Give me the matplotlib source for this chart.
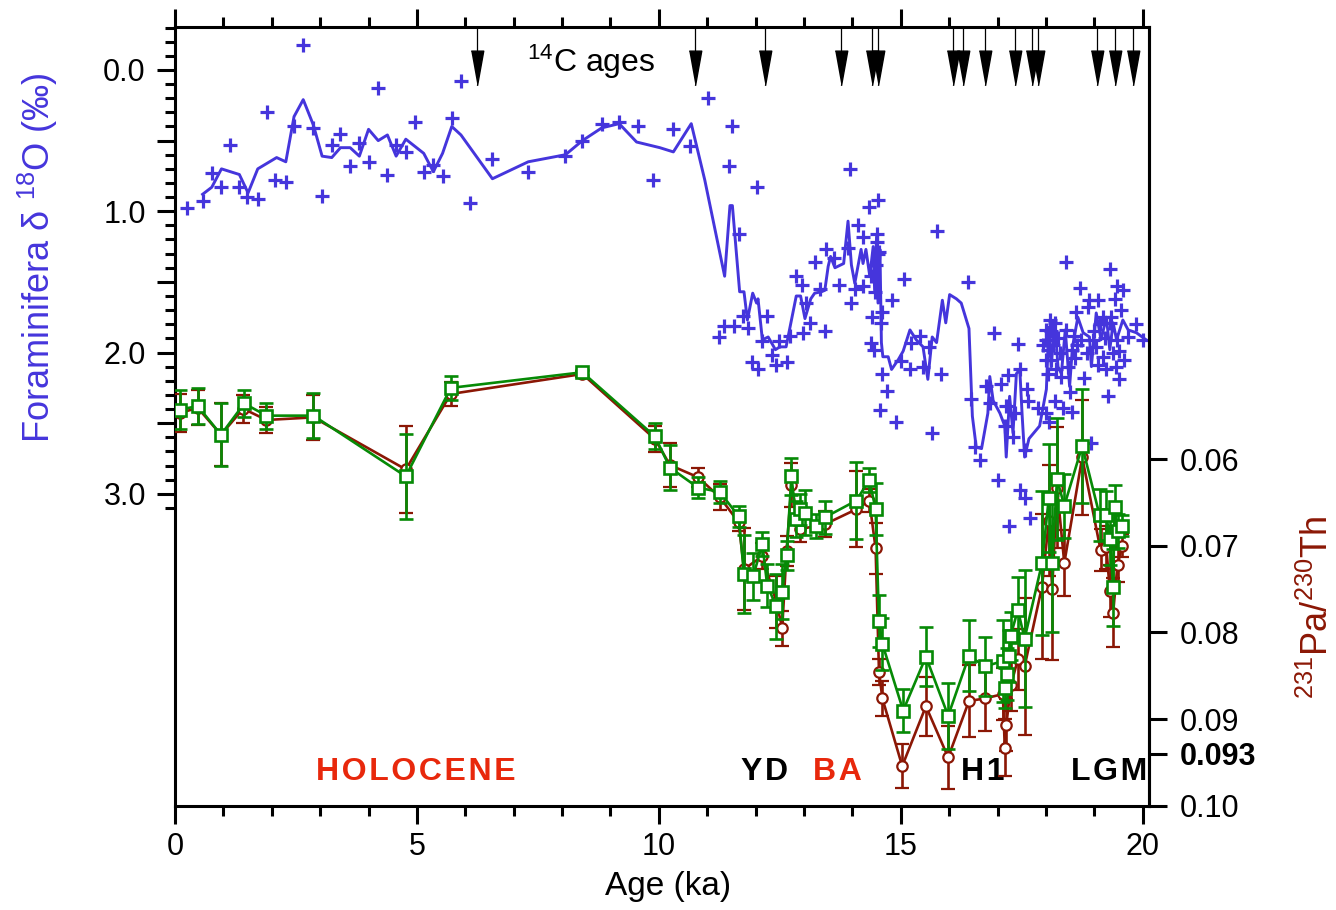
import numpy as np
import matplotlib
matplotlib.use("Agg")
from matplotlib import pyplot as plt

plt.rcParams['font.family'] = ['Liberation Sans', 'DejaVu Sans']
plt.rcParams['mathtext.fontset'] = 'custom'
plt.rcParams['mathtext.rm'] = 'Liberation Sans'
plt.rcParams['mathtext.it'] = 'Liberation Sans:italic'
plt.rcParams['mathtext.bf'] = 'Liberation Sans:bold'

BLUE = '#4535DC'
GREEN = '#068A06'
DARKRED = '#8B1705'
ORANGE = '#E8280C'

# foraminifera d18O, single measurements (ka, permil)
d18o_age = [
    0.24, 0.57, 0.76, 0.96, 1.14, 1.33, 1.49, 1.71, 1.91, 2.07, 2.29, 2.46, 2.65, 2.86,
    3.04, 3.24, 3.42, 3.62, 3.81, 4.00, 4.20, 4.39, 4.57, 4.77, 4.96, 5.14, 5.34, 5.53,
    5.72, 5.91, 6.10, 6.56, 7.30, 8.07, 8.42, 8.82, 9.18, 9.57, 9.88, 10.30, 10.64, 11.02,
    11.45, 11.52, 11.66, 12.02,
    11.24, 11.35, 11.56, 11.74, 11.85, 11.92, 12.05, 12.14, 12.24, 12.33, 12.43, 12.49,
    12.65, 12.71, 12.83, 12.95, 12.98, 13.04, 13.12, 13.22, 13.33, 13.43, 13.46, 13.62,
    13.73, 13.91, 13.95, 13.97, 14.05, 14.12, 14.21, 14.22, 14.35, 14.39, 14.39, 14.41,
    14.45, 14.46, 14.50, 14.50, 14.52, 14.48, 14.53, 14.55, 14.58, 14.60, 14.62, 14.62,
    14.72, 14.81, 14.90, 15.07, 15.74,
    15.01, 15.19, 15.22, 15.39, 15.46, 15.59, 15.65, 15.84, 16.40, 16.46, 16.53, 16.63,
    16.77, 16.84, 16.92, 17.00, 17.08, 17.15, 17.18, 17.22, 17.24, 17.32, 17.36, 17.43,
    17.46, 17.46, 17.56, 17.56, 17.60, 17.63, 17.67, 17.84, 18.01, 18.01, 18.01, 18.04,
    18.06, 18.08, 18.11, 18.18, 18.18, 18.21, 18.32, 18.35, 18.42, 18.42, 18.49, 18.53,
    18.53, 18.60, 18.62, 18.70, 18.73, 18.79, 18.87, 18.90, 18.94, 18.97, 19.04, 19.08,
    19.08, 19.18, 19.18, 19.25, 19.28, 19.32, 19.32, 19.35, 19.45, 19.46, 19.46, 19.52,
    19.52, 19.59, 19.70, 19.87, 20.01,
    17.95, 18.00, 18.05, 18.10, 18.15, 18.25, 18.30, 18.45, 18.58, 18.65, 18.85, 19.00,
    19.12, 19.22, 19.38, 19.42, 19.55, 19.62,
]
d18o_val = [
    0.98, 0.93, 0.73, 0.83, 0.53, 0.83, 0.90, 0.91, 0.30, 0.78, 0.79, 0.40, -0.18, 0.41,
    0.89, 0.53, 0.45, 0.68, 0.52, 0.65, 0.13, 0.74, 0.53, 0.58, 0.37, 0.72, 0.67, 0.75,
    0.34, 0.08, 0.94, 0.63, 0.72, 0.61, 0.50, 0.38, 0.37, 0.40, 0.78, 0.42, 0.54, 0.20,
    0.68, 0.40, 1.16, 0.83,
    1.89, 1.81, 1.81, 1.74, 1.83, 2.07, 2.12, 1.92, 1.74, 2.02, 2.09, 1.92,
    2.07, 1.88, 1.46, 1.52, 1.86, 1.65, 1.79, 1.36, 1.55, 1.85, 1.27, 1.33,
    1.52, 1.26, 0.70, 1.65, 1.55, 1.10, 1.18, 1.53, 0.97, 1.46, 1.93, 1.75,
    1.98, 1.57, 1.16, 1.22, 1.30, 1.38, 0.92, 1.29, 2.41, 1.79, 1.71, 2.15,
    2.27, 1.63, 2.49, 1.48, 1.14,
    2.06, 2.12, 1.93, 1.88, 2.10, 1.96, 2.57, 2.15, 1.50, 2.33, 2.67, 2.76,
    2.24, 2.36, 1.86, 2.90, 2.22, 2.52, 2.38, 2.16, 3.23, 2.60, 2.43, 1.94,
    2.12, 2.97, 2.69, 3.03, 2.26, 2.34, 3.17, 2.39, 2.43, 1.84, 1.91, 1.98,
    2.49, 1.77, 2.05, 2.34, 1.79, 2.12, 2.17, 2.39, 1.36, 1.84, 2.28, 2.42,
    1.98, 2.04, 1.71, 1.54, 1.91, 2.18, 1.68, 1.63, 2.64, 1.91, 1.96, 1.63,
    2.09, 2.03, 1.75, 2.12, 2.31, 1.41, 1.79, 1.75, 2.10, 1.53, 1.91, 1.99,
    2.19, 1.56, 1.89, 1.80, 1.91,
    1.95, 2.05, 2.15, 1.85, 1.95, 1.90, 2.00, 2.10, 1.88, 1.95, 2.00, 1.85,
    1.80, 1.90, 2.00, 1.62, 1.70, 2.05,
]

# smoothed d18O curve
curve_age = [
    0.57, 0.76, 0.96, 1.33, 1.51, 1.71, 2.10, 2.29, 2.46, 2.65, 2.86, 3.04, 3.24, 3.42,
    3.62, 3.81, 4.00, 4.20, 4.39, 4.57, 4.77, 5.14, 5.34, 5.53, 5.72, 5.91, 6.56, 7.30,
    8.07, 8.42, 8.82, 9.18, 9.54, 10.02, 10.30, 10.67, 10.95, 11.36, 11.47, 11.52, 11.67,
    11.76, 11.83, 11.94, 12.02, 12.05, 12.14, 12.26, 12.41, 12.50, 12.63, 12.84, 12.93,
    13.02, 13.14, 13.22, 13.36, 13.43, 13.50, 13.55, 13.64, 13.82, 13.91, 13.98, 14.05,
    14.12, 14.18, 14.22, 14.28, 14.36, 14.43, 14.46, 14.50, 14.53, 14.57, 14.60, 14.63,
    14.74, 14.81, 14.95, 15.05, 15.19, 15.32, 15.46, 15.56, 15.65, 15.74, 15.86, 15.93,
    16.01, 16.15, 16.25, 16.41, 16.48, 16.56, 16.67, 16.80, 16.84, 16.91, 17.05, 17.15,
    17.18, 17.25, 17.32, 17.39, 17.46, 17.51, 17.56, 17.65, 17.87, 18.01, 18.06, 18.11,
    18.18, 18.25, 18.32, 18.40, 18.49, 18.55, 18.66, 18.77, 18.90, 18.94, 19.04, 19.14,
    19.25, 19.32, 19.39, 19.46, 19.59, 19.70, 19.87, 20.07,
]
curve_val = [
    0.88, 0.83, 0.70, 0.74, 0.87, 0.70, 0.62, 0.65, 0.33, 0.21, 0.39, 0.61, 0.62, 0.55,
    0.55, 0.61, 0.42, 0.50, 0.46, 0.61, 0.49, 0.59, 0.72, 0.59, 0.40, 0.46, 0.77, 0.65,
    0.60, 0.50, 0.41, 0.38, 0.51, 0.55, 0.58, 0.38, 0.78, 1.46, 0.96, 0.96, 1.57,
    1.57, 1.77, 1.58, 1.65, 1.62, 1.91, 1.89, 1.98, 1.96, 1.96, 1.60, 1.60,
    1.76, 1.62, 1.58, 1.57, 1.56, 1.39, 1.32, 1.40, 1.37, 1.07, 1.38, 1.51,
    1.38, 1.27, 1.37, 1.27, 1.46, 1.25, 1.56, 1.18, 1.65, 1.27, 1.93, 2.03,
    2.03, 2.12, 2.05, 1.99, 1.84, 1.91, 1.96, 2.19, 1.89, 1.93, 1.63, 1.79,
    1.59, 1.62, 1.65, 1.83, 2.45, 2.67, 2.68, 2.43, 2.17, 2.34, 2.43, 2.52,
    2.74, 2.31, 2.57, 2.15, 2.12, 2.45, 2.74, 2.61, 2.52, 2.26, 1.82, 2.10,
    1.77, 2.10, 2.15, 1.84, 2.24, 1.96, 1.75, 1.86, 1.89, 2.10, 1.72, 1.91,
    1.75, 1.98, 1.79, 1.91, 1.77, 1.84, 1.86, 1.91,
]

# 231Pa/230Th, two records
pa_green_age = [0.10, 0.47, 0.95, 1.43, 1.89, 2.86, 4.77, 5.70, 8.42, 9.92, 10.23, 10.81,
                11.26, 11.65, 11.76, 11.95, 12.14, 12.24, 12.43, 12.55, 12.64, 12.74, 12.84,
                12.91, 13.03, 13.24, 13.44, 14.08, 14.35, 14.48, 14.55, 14.62, 15.05, 15.52,
                15.98, 16.41, 16.74, 17.11, 17.16, 17.20, 17.24, 17.27, 17.42, 17.56, 17.92,
                18.06, 18.13, 18.23, 18.38, 18.75, 19.11, 19.25, 19.32, 19.39, 19.42, 19.48,
                19.58]
pa_green = [0.0543, 0.0539, 0.0572, 0.0536, 0.0550, 0.0550, 0.0620, 0.0518, 0.0500, 0.0574,
            0.0610, 0.0633, 0.0638, 0.0666, 0.0733, 0.0735, 0.0698, 0.0746, 0.0770, 0.0753,
            0.0711, 0.0620, 0.0669, 0.0658, 0.0662, 0.0677, 0.0667, 0.0648, 0.0624, 0.0658,
            0.0787, 0.0813, 0.0890, 0.0828, 0.0896, 0.0827, 0.0839, 0.0833, 0.0864, 0.0848,
            0.0827, 0.0804, 0.0774, 0.0807, 0.0720, 0.0645, 0.0720, 0.0623, 0.0654, 0.0585,
            0.0665, 0.0665, 0.0692, 0.0748, 0.0655, 0.0683, 0.0677]
pa_green_err = [0.0022, 0.0021, 0.0036, 0.0016, 0.0015, 0.0026, 0.0049, 0.0014, 0.0003,
                0.0015, 0.0026, 0.0012, 0.0013, 0.0012, 0.0045, 0.0027, 0.0014, 0.0025,
                0.0037, 0.0032, 0.0017, 0.0021, 0.0021, 0.0018, 0.0026, 0.0014, 0.0019,
                0.0044, 0.0014, 0.0030, 0.0030, 0.0030, 0.0025, 0.0034, 0.0038, 0.0041,
                0.0034, 0.0047, 0.0023, 0.0030, 0.0030, 0.0028, 0.0038, 0.0079, 0.0083,
                0.0062, 0.0079, 0.0070, 0.0037, 0.0066, 0.0030, 0.0028, 0.0030, 0.0044,
                0.0025, 0.0020, 0.0012]

pa_red_age = [0.10, 0.47, 0.95, 1.41, 1.89, 2.86, 4.77, 5.70, 8.42, 9.92, 10.23, 10.81,
              11.26, 11.65, 11.76, 12.14, 12.43, 12.55, 12.64, 12.74, 12.91, 13.44, 14.08,
              14.35, 14.48, 14.55, 14.62, 15.03, 15.52, 15.98, 16.41, 16.74, 17.11, 17.15,
              17.18, 17.28, 17.42, 17.56, 17.92, 18.06, 18.13, 18.23, 18.38, 18.75, 19.13,
              19.25, 19.32, 19.39, 19.48, 19.58]
pa_red = [0.0547, 0.0541, 0.0572, 0.0542, 0.0555, 0.0552, 0.0612, 0.0525, 0.0502, 0.0577,
          0.0607, 0.0621, 0.0644, 0.0673, 0.0727, 0.0712, 0.0765, 0.0795, 0.0706, 0.0630,
          0.0681, 0.0675, 0.0658, 0.0648, 0.0703, 0.0845, 0.0876, 0.0954, 0.0885, 0.0944,
          0.0879, 0.0876, 0.0871, 0.0933, 0.0907, 0.0860, 0.0831, 0.0839, 0.0747, 0.0671,
          0.0750, 0.0633, 0.0720, 0.0598, 0.0705, 0.0702, 0.0752, 0.0777, 0.0722, 0.0700]
pa_red_err = [0.0022, 0.0020, 0.0036, 0.0016, 0.0015, 0.0026, 0.0050, 0.0014, 0.0003,
              0.0015, 0.0025, 0.0011, 0.0015, 0.0010, 0.0047, 0.0015, 0.0030, 0.0020,
              0.0017, 0.0025, 0.0015, 0.0015, 0.0044, 0.0013, 0.0029, 0.0015, 0.0020,
              0.0025, 0.0034, 0.0036, 0.0041, 0.0038, 0.0030, 0.0033, 0.0030, 0.0030,
              0.0035, 0.0079, 0.0084, 0.0064, 0.0082, 0.0070, 0.0038, 0.0066, 0.0024,
              0.0025, 0.0030, 0.0040, 0.0020, 0.0013]

# radiocarbon dated levels
c14_ages = [6.24, 10.74, 12.19, 13.76, 14.40, 14.52, 16.07, 16.28, 16.74, 17.36, 17.71,
            17.83, 19.05, 19.42, 19.79]

period_names = ['HOLOCENE', 'YD', 'BA', 'H1', 'LGM']
period_centers = [4.98, 12.19, 13.70, 16.69, 19.30]
period_colors = [ORANGE, 'black', ORANGE, 'black', 'black']

# right axis ticks (the 0.093 mark sits a little lower in the original figure)
right_ticks = [0.06, 0.07, 0.08, 0.09, 0.094, 0.10]
right_labels = ['0.06', '0.07', '0.08', '0.09', '0.093', '0.10']

fig = plt.figure(figsize=(13.36, 9.10), dpi=100)
ax = fig.add_axes([0.131, 0.1143, 0.729, 0.856])

ax.plot(curve_age, curve_val, color=BLUE, lw=2.1, zorder=2)
ax.plot(d18o_age, d18o_val, ls='none', marker='+', ms=10.5, mew=2.3, color=BLUE, zorder=3)

ax.set_xlim(0, 20.13)
ax.set_ylim(5.21, -0.304)

ax.set_xticks([0, 5, 10, 15, 20])
ax.set_xticks(np.arange(0, 21, 1), minor=True)
ax.set_yticks([0, 0.5, 1, 1.5, 2, 2.5, 3])
ax.set_yticklabels(['0.0', '', '1.0', '', '2.0', '', '3.0'])
ax.set_yticks([v for v in np.round(np.arange(-0.3, 3.15, 0.1), 1) if v * 2 != round(v * 2)],
              minor=True)
ax.tick_params(axis='x', which='both', direction='out', top=True, labelsize=22, width=2.2, pad=6)
ax.tick_params(axis='x', which='major', length=13)
ax.tick_params(axis='x', which='minor', length=7)
ax.tick_params(axis='y', which='both', direction='out', labelsize=22, width=2.2, pad=8)
ax.tick_params(axis='y', which='major', length=13)
ax.tick_params(axis='y', which='minor', length=7)
for s in ax.spines.values():
    s.set_linewidth(2.2)

ax2 = ax.twinx()
ax2.errorbar(pa_red_age, pa_red, yerr=pa_red_err, fmt='-o', color=DARKRED, mfc='white',
             mec=DARKRED, ms=7.5, mew=1.6, lw=1.9, elinewidth=1.9, capsize=5, capthick=1.9,
             zorder=3)
ax2.errorbar(pa_green_age, pa_green, yerr=pa_green_err, fmt='-s', color=GREEN, mfc='white',
             mec=GREEN, ms=9, mew=1.9, lw=1.9, elinewidth=1.9, capsize=5, capthick=1.9,
             zorder=4)
ax2.set_ylim(0.10, 0.0102)
ax2.set_yticks(right_ticks)
ax2.set_yticklabels(right_labels)
ax2.get_yticklabels()[4].set_fontweight('bold')
ax2.tick_params(axis='y', direction='out', length=13, width=2.2, labelsize=22, pad=9)
for name in ['top', 'left', 'bottom']:
    ax2.spines[name].set_visible(False)
ax2.spines['right'].set_linewidth(2.2)

# 14C age arrows hanging from the top axis
trans = ax.get_xaxis_transform()
tri = [(-0.36, 1.0), (0.36, 1.0), (0.0, -1.0)]
for a in c14_ages:
    ax.plot([a, a], [1.0, 0.96], transform=trans, color='black', lw=0.9, clip_on=False)
ax.plot(c14_ages, [0.947] * len(c14_ages), transform=trans, ls='none', marker=tri, ms=25,
        color='black', clip_on=False)
ax.text(8.6, 0.955, '$^{14}$C ages', transform=trans, ha='center', va='center', fontsize=23)

for name, c, col in zip(period_names, period_centers, period_colors):
    ax.text(c, 0.043, '\u200a'.join(name), transform=trans, ha='center', va='center',
            fontsize=23, fontweight='bold', color=col)

fig.text(0.5, 0.026, 'Age (ka)', ha='center', va='center', fontsize=24)
fig.text(0.028, 0.717, 'Foraminifera \u03b4 $^{18}$O (\u2030)', rotation=90, ha='center',
         va='center', fontsize=26, color=BLUE)
fig.text(0.9865, 0.333, '$^{231}$Pa/$^{230}$Th', rotation=90, ha='center', va='center',
         fontsize=26, color=DARKRED)

fig.savefig('out.png', dpi=100)
